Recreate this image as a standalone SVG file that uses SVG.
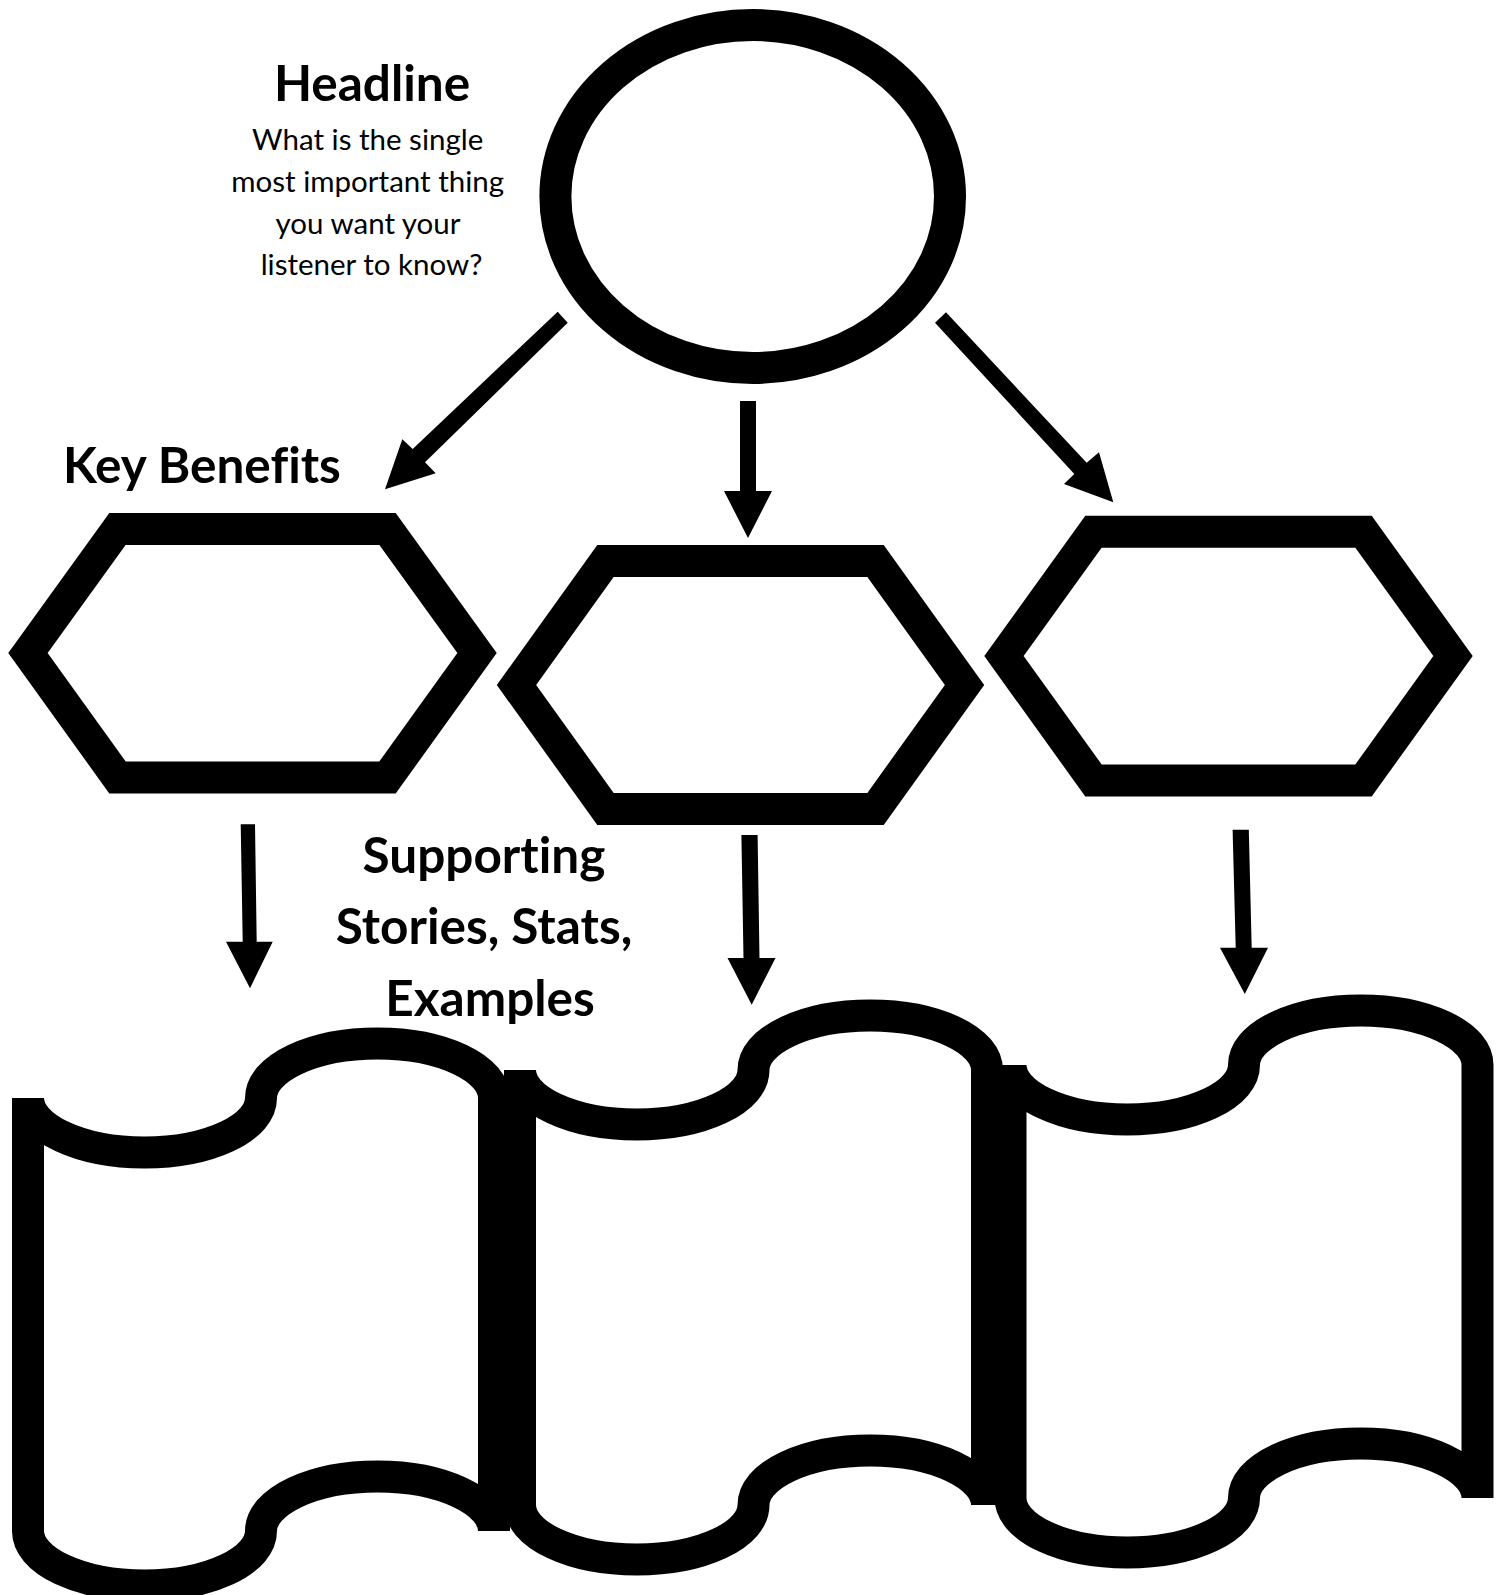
<svg xmlns="http://www.w3.org/2000/svg" width="1500" height="1595" viewBox="0 0 1500 1595">
  <style>
    .shape { fill: #ffffff; stroke: #000000; stroke-width: 32; }
    .arrow { fill: #000000; stroke: none; }
    .title { font-family: Lato, "Liberation Sans", sans-serif; font-weight: bold; font-size: 49.5px; fill: #000000; font-variant-ligatures: none; font-feature-settings: "liga" 0, "clig" 0; }
    .body { font-family: Lato, "Liberation Sans", sans-serif; font-size: 29.5px; fill: #000000; font-variant-ligatures: none; font-feature-settings: "liga" 0, "clig" 0; }
  </style>
  <rect x="0" y="0" width="1500" height="1595" fill="#ffffff"/>

  <g id="headline-label">
    <text class="title" x="372" y="101" text-anchor="middle">Headline</text>
    <text class="body" text-anchor="middle">
      <tspan x="371.5" y="149.5">What is the single</tspan>
      <tspan x="371.5" y="191.5">most important thing</tspan>
      <tspan x="371.5" y="233.5">you want your</tspan>
      <tspan x="371.5" y="275">listener to know?</tspan>
    </text>
  </g>

  <g id="headline">
    <ellipse class="shape" cx="752.7" cy="196.5" rx="197.3" ry="171.5"/>
  </g>

  <g id="key-benefits-label">
    <text class="title" x="63" y="483">Key Benefits</text>
  </g>

  <g id="benefit-1">
    <polygon class="shape" points="117.5,529 387.5,529 477,653 387.5,777.5 117.5,777.5 28,653"/>
  </g>
  <g id="benefit-2">
    <polygon class="shape" points="605.5,561 875.5,561 964.5,685 875.5,809 605.5,809 516.5,685"/>
  </g>
  <g id="benefit-3">
    <polygon class="shape" points="1093.5,531.7 1363.5,531.7 1453,656 1363.5,780.5 1093.5,780.5 1004,656"/>
  </g>

  <g id="supporting-label">
    <text class="title" text-anchor="middle">
      <tspan x="490" y="873">Supporting</tspan>
      <tspan x="490" y="944">Stories, Stats,</tspan>
      <tspan x="490" y="1016">Examples</tspan>
    </text>
  </g>

  <g id="support-1">
    <path class="shape" d="M 28 1098 A 116.5 54.5 0 0 0 261 1098 A 116.5 54.5 0 0 1 494 1098 L 494 1531 A 116.5 54.5 0 0 0 261 1531 A 116.5 54.5 0 0 1 28 1531 Z"/>
  </g>
  <g id="support-2">
    <path class="shape" d="M 520 1070 A 116.75 54.5 0 0 0 753.5 1070 A 116.75 54.5 0 0 1 987 1070 L 987 1505 A 116.75 54.5 0 0 0 753.5 1505 A 116.75 54.5 0 0 1 520 1505 Z"/>
  </g>
  <g id="support-3">
    <path class="shape" d="M 1010.5 1065 A 116.75 54.5 0 0 0 1244 1065 A 116.75 54.5 0 0 1 1477.5 1065 L 1477.5 1498 A 116.75 54.5 0 0 0 1244 1498 A 116.75 54.5 0 0 1 1010.5 1498 Z"/>
  </g>

  <g id="connectors">
    <polygon class="arrow" points="557.7,311.7 567.7,322.7 425,462.3 435.7,473.3 385,489.3 402.3,439.3 412.7,449"/>
    <polygon class="arrow" points="740,401 756,401 756,491 772,491 748,538 724,491 740,491"/>
    <polygon class="arrow" points="946,312.3 1086.7,462.7 1099,452.3 1113.3,502.3 1064,484 1074.3,474 935,322.7"/>
    <polygon class="arrow" points="240.7,824.3 255,824.3 256.7,941.7 272.7,941.7 250,988.3 226,941.7 242.7,941.7"/>
    <polygon class="arrow" points="741.4,835 757.6,835 759.5,958 775.5,958 751.7,1004.7 727.5,958 743.5,958"/>
    <polygon class="arrow" points="1232.6,829.8 1248.8,829.8 1251.7,947.8 1268,947.8 1244.8,994 1220,947.8 1235.7,947.8"/>
  </g>
</svg>
